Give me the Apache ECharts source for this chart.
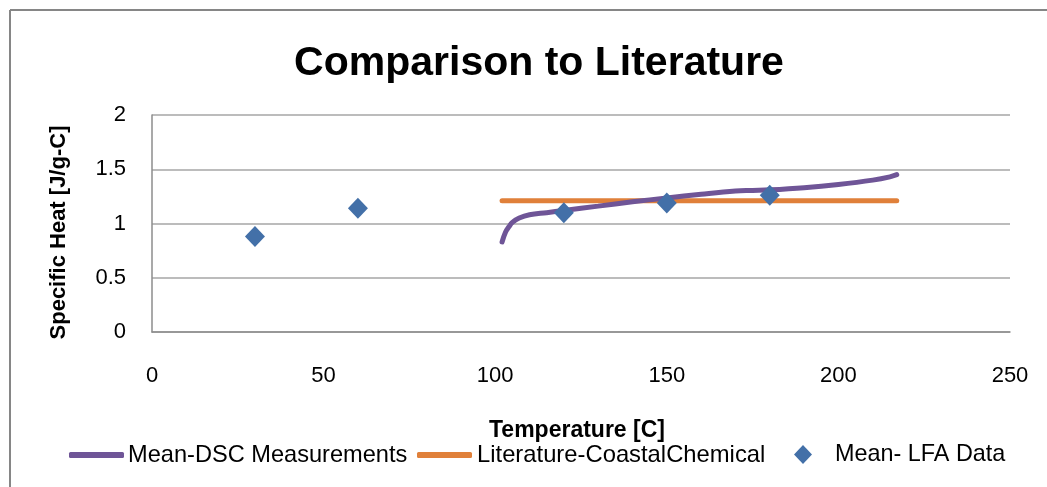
<!DOCTYPE html>
<html>
<head>
<meta charset="utf-8">
<script src="https://cdn.jsdelivr.net/npm/echarts@6/dist/echarts.min.js"></script>
<style>html,body{margin:0;padding:0;background:#fff}#c{width:1047px;height:487px}</style>
</head>
<body>
<div id="c"></div>
<script>
var dscTemps = [102, 103, 104, 105, 107, 110, 115, 120, 130, 140, 150, 160, 170, 175, 180, 190, 200, 210, 215, 217];
var dscValues = [0.83, 0.92, 0.97, 1.01, 1.05, 1.08, 1.10, 1.12, 1.16, 1.20, 1.235, 1.27, 1.30, 1.305, 1.31, 1.33, 1.36, 1.40, 1.43, 1.45];
var litTemps = [102, 217];
var litValues = [1.21, 1.21];
var lfaTemps = [30, 60, 120, 150, 180];
var lfaValues = [0.88, 1.14, 1.10, 1.19, 1.26];
var xTicks = [0, 50, 100, 150, 200, 250];
var yTicks = [0, 0.5, 1, 1.5, 2];

function pairs(xs, ys) { return xs.map(function (x, i) { return [x, ys[i]]; }); }

var FONT = '"Liberation Sans", Arial, sans-serif';
var chart = echarts.init(document.getElementById('c'), null, {renderer: 'canvas'});
chart.setOption({
  animation: false,
  textStyle: {fontFamily: FONT},
  title: {
    text: 'Comparison to Literature',
    left: 534, top: 38, textAlign: 'center',
    textStyle: {fontSize: 41, fontWeight: 'bold', color: '#000', fontFamily: FONT}
  },
  grid: {left: 152, right: 37, top: 115, bottom: 155},
  xAxis: {
    type: 'value', min: xTicks[0], max: xTicks[xTicks.length - 1], interval: 50,
    name: 'Temperature [C]', nameLocation: 'middle', nameGap: 87,
    nameTextStyle: {fontSize: 23, fontWeight: 'bold', color: '#000', fontFamily: FONT, padding: [0, 8, 0, 0]},
    axisLine: {show: true, lineStyle: {color: '#8c8c8c', width: 1.5}},
    axisTick: {show: false},
    splitLine: {show: false},
    axisLabel: {fontSize: 22, color: '#000', margin: 33, fontFamily: FONT}
  },
  yAxis: {
    type: 'value', min: yTicks[0], max: yTicks[yTicks.length - 1], interval: 0.5,
    name: 'Specific Heat [J/g-C]', nameLocation: 'middle', nameGap: 82, nameRotate: 90,
    nameTextStyle: {fontSize: 22, fontWeight: 'bold', color: '#000', fontFamily: FONT, padding: [0, 18, 0, 0]},
    axisLine: {show: true, lineStyle: {color: '#8c8c8c', width: 1.5}},
    axisTick: {show: false},
    splitLine: {show: true, lineStyle: {color: '#a6a6a6', width: 1.5}},
    axisLabel: {fontSize: 22, color: '#000', margin: 26, fontFamily: FONT}
  },
  legend: [
    {data: [{name: 'Mean-DSC Measurements', icon: 'roundRect'}], left: 69, top: 443, padding: 0, itemWidth: 55, itemHeight: 6,
     textStyle: {fontSize: 23.6, color: '#000', fontFamily: FONT, padding: [0, 0, 0, -1]}},
    {data: [{name: 'Literature-CoastalChemical', icon: 'roundRect'}], left: 417, top: 443, padding: 0, itemWidth: 55, itemHeight: 6,
     textStyle: {fontSize: 23.8, color: '#000', fontFamily: FONT, padding: [0, 0, 0, 0]}},
    {data: [{name: 'Mean- LFA Data', icon: 'diamond'}], left: 794, top: 443, padding: 0, itemWidth: 18, itemHeight: 19,
     textStyle: {fontSize: 23.4, color: '#000', fontFamily: FONT, padding: [0, 0, 0, 18]}}
  ],
  series: [
    {name: 'Mean-DSC Measurements', type: 'line', data: pairs(dscTemps, dscValues), smooth: 0.4,
     showSymbol: false, symbol: 'none', color: '#6f5597',
     lineStyle: {width: 5, color: '#6f5597', cap: 'round'}, z: 3},
    {name: 'Literature-CoastalChemical', type: 'line', data: pairs(litTemps, litValues),
     showSymbol: false, symbol: 'none', color: '#e0803a',
     lineStyle: {width: 5, color: '#e0803a', cap: 'round'}, z: 2},
    {name: 'Mean- LFA Data', type: 'scatter', data: pairs(lfaTemps, lfaValues), symbol: 'diamond', symbolSize: [20, 21],
     itemStyle: {color: '#4370a8', opacity: 1}, z: 4}
  ],
  graphic: [
    {type: 'line', shape: {x1: 10, y1: 10, x2: 10, y2: 487}, style: {stroke: '#868686', lineWidth: 2}},
    {type: 'line', shape: {x1: 10, y1: 10, x2: 1047, y2: 10}, style: {stroke: '#868686', lineWidth: 2}}
  ]
});
</script>
</body>
</html>
